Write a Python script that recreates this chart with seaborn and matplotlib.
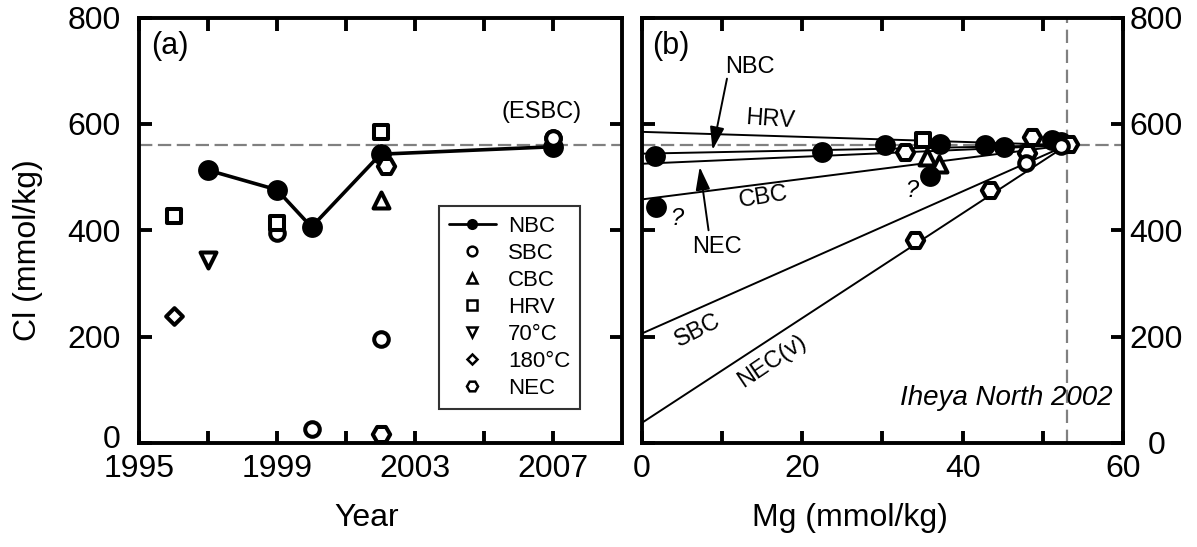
import matplotlib
matplotlib.use("Agg")
import matplotlib.pyplot as plt
import matplotlib.transforms as mtransforms
from matplotlib.lines import Line2D
from matplotlib.ticker import FixedLocator
import numpy as np
import pandas as pd
import seaborn as sns

# ---------------- data: panel (a)  Cl vs year ----------------
nbc_year = [1997, 1999, 2000, 2002, 2007]
nbc_cl = [513, 476, 406, 543, 557]
sbc_year = [1999, 2000, 2002, 2007]
sbc_cl = [394, 26, 196, 573]
cbc_year = [2002]
cbc_cl = [457]
hrv_year = [1996, 1999, 2002]
hrv_cl = [426, 414, 585]
t70_year = [1997]
t70_cl = [345]
t180_year = [1996]
t180_cl = [238]
nec_year = [2002.15, 2002]
nec_cl = [521, 16]

# ---------------- data: panel (b)  Cl vs Mg ----------------
nbc_mg = [1.6, 1.8, 22.4, 30.3, 37.2, 35.9, 42.8, 45.2, 51.2, 52.3]
nbc_cl_b = [539, 444, 547, 560, 562, 502, 561, 557, 569, 566]
sbc_mg = [47.9, 52.3]
sbc_cl_b = [527, 559]
cbc_mg = [35.6, 37.0]
cbc_cl_b = [537, 525]
hrv_mg = [35.1]
hrv_cl_b = [570]
nec_mg = [32.8, 48.6, 43.4, 34.0, 48.0, 53.3]
nec_cl_b = [548, 575, 475, 382, 545, 562]

mix_names = ["HRV", "NBC", "NEC", "CBC", "SBC", "NEC(v)"]
mix_cl0 = [585, 544, 525, 458, 206, 38]
seawater_mg = 53.0
seawater_cl = 560

legend_labels = ["NBC", "SBC", "CBC", "HRV", "70°C", "180°C", "NEC"]

# ---------------- style ----------------
sns.set_theme(style="white")
plt.rcParams["font.family"] = ["Liberation Sans", "DejaVu Sans"]
plt.rcParams["axes.edgecolor"] = "black"
plt.rcParams["axes.linewidth"] = 2.8
plt.rcParams["text.color"] = "black"
plt.rcParams["axes.labelcolor"] = "black"
plt.rcParams["xtick.color"] = "black"
plt.rcParams["ytick.color"] = "black"

TICK_FS = 23
LW_SP = 2.8
MEW = 2.9

fig = plt.figure(figsize=(11.97, 5.47), dpi=100)
ax1 = fig.add_axes([139 / 1197, 1 - 443 / 547, (622 - 139) / 1197, (443 - 17.5) / 547])
ax2 = fig.add_axes([642 / 1197, 1 - 443 / 547, (1123 - 642) / 1197, (443 - 17.5) / 547])

open_kw = dict(color="white", edgecolor="black", linewidth=MEW, legend=False)

def open_pts(ax, x, y, marker, ms, z=4):
    sns.scatterplot(x=x, y=y, marker=marker, s=ms ** 2, ax=ax, zorder=z, **open_kw)

# ---------------- panel (a) ----------------
ax1.axhline(seawater_cl, color="#808080", lw=1.6, ls=(0, (6, 2.5)), zorder=1)
open_pts(ax1, sbc_year, sbc_cl, "o", 10.5, 3)
sns.lineplot(x=nbc_year, y=nbc_cl, color="black", lw=2.6, marker="o", ms=15,
             markeredgewidth=0, estimator=None, sort=False, ax=ax1, zorder=3)
open_pts(ax1, [sbc_year[-1]], [sbc_cl[-1]], "o", 10.5, 5)
open_pts(ax1, hrv_year, hrv_cl, "s", 10.5)
open_pts(ax1, cbc_year, cbc_cl, "^", 11.5)
open_pts(ax1, t70_year, t70_cl, "v", 11.5)
open_pts(ax1, t180_year, t180_cl, "D", 8.5)
open_pts(ax1, nec_year, nec_cl, "H", 12.5)

ax1.set_xlim(1995, 2009)
ax1.set_ylim(0, 800)
ax1.xaxis.set_major_locator(FixedLocator([1995, 1999, 2003, 2007]))
ax1.xaxis.set_minor_locator(FixedLocator([1997, 2001, 2005]))
ax1.set_yticks([0, 200, 400, 600, 800])
ax1.set_xticks([1995, 1999, 2003, 2007])
ax1.set_xticklabels(["1995", "1999", "2003", "2007"])
ax1.text(0.025, 0.934, "(a)", transform=ax1.transAxes, fontsize=22, ha="left", va="center")
ax1.text(2006.68, 622, "(ESBC)", fontsize=17, ha="center", va="center")
ax1.set_xlabel("Year", fontsize=TICK_FS)
ax1.set_ylabel("Cl (mmol/kg)", fontsize=TICK_FS)
ax1.xaxis.set_label_coords(0.472, -0.14)
ax1.yaxis.set_label_coords(-0.198, 0.453)

handles = [Line2D([], [], color="black", lw=2, marker="o", ms=8, mew=0)]
for m, s in zip(["o", "^", "s", "v", "D", "H"], [7, 7.5, 7, 7.5, 5.5, 8]):
    handles.append(Line2D([], [], ls="none", marker=m, ms=s, mfc="white", mec="black", mew=1.8))
leg = ax1.legend(handles, legend_labels, loc="center", bbox_to_anchor=(0.767, 0.318),
                 fontsize=16, frameon=True, fancybox=False, edgecolor="black",
                 handlelength=2.1, labelspacing=0.27, handletextpad=0.55,
                 borderpad=0.45, borderaxespad=0)
leg.get_frame().set_linewidth(1.5)
leg.set_zorder(10)

# ---------------- panel (b) ----------------
mix_rows = []
for name, c0 in zip(mix_names, mix_cl0):
    mix_rows.append({"line": name, "mg": 0.0, "cl": c0})
    mix_rows.append({"line": name, "mg": seawater_mg, "cl": seawater_cl})
mix_df = pd.DataFrame(mix_rows)

ax2.axhline(seawater_cl, color="#808080", lw=1.6, ls=(0, (6, 2.5)), zorder=1)
ax2.axvline(seawater_mg, color="#808080", lw=1.6, ls=(0, (6, 3)), zorder=1)
sns.lineplot(data=mix_df, x="mg", y="cl", units="line", estimator=None, color="black",
             lw=1.4, ax=ax2, zorder=2, legend=False)
open_pts(ax2, hrv_mg, hrv_cl_b, "s", 10.5, 3)
sns.scatterplot(x=nbc_mg, y=nbc_cl_b, marker="o", s=15 ** 2, color="black", linewidth=0,
                ax=ax2, zorder=4, legend=False)
open_pts(ax2, cbc_mg, cbc_cl_b, "^", 11.5, 3)
open_pts(ax2, nec_mg, nec_cl_b, "H", 12.5, 5)
open_pts(ax2, sbc_mg, sbc_cl_b, "o", 10.5, 6)

ax2.set_xlim(0, 60)
ax2.set_ylim(0, 800)
ax2.xaxis.set_major_locator(FixedLocator([0, 20, 40, 60]))
ax2.xaxis.set_minor_locator(FixedLocator([10, 30, 50]))
ax2.set_yticks([0, 200, 400, 600, 800])
ax2.set_xlabel("Mg (mmol/kg)", fontsize=TICK_FS)
ax2.set_ylabel("")
ax2.xaxis.set_label_coords(0.432, -0.14)

ax2.text(0.021, 0.934, "(b)", transform=ax2.transAxes, fontsize=22, ha="left", va="center")
ax2.text(0.979, 0.106, "Iheya North 2002", transform=ax2.transAxes, fontsize=20,
         style="italic", ha="right", va="center")
ax2.text(13.5, 707, "NBC", fontsize=17, ha="center", va="center")
ax2.text(16.0, 607, "HRV", fontsize=17, ha="center", va="center", rotation=-4)
ax2.text(15.1, 463, "CBC", fontsize=17, ha="center", va="center", rotation=9)
ax2.text(9.3, 369, "NEC", fontsize=17, ha="center", va="center")
ax2.text(7.0, 212, "SBC", fontsize=17, ha="center", va="center", rotation=27)
ax2.text(16.2, 153, "NEC(v)", fontsize=17, ha="center", va="center", rotation=34)
ax2.text(4.3, 422, "?", fontsize=17, ha="center", va="center", style="italic")
ax2.text(33.6, 475, "?", fontsize=17, ha="center", va="center", style="italic")
arrow = dict(arrowstyle="-|>,head_length=0.7,head_width=0.22", color="black", lw=1.4,
             shrinkA=0, shrinkB=0, mutation_scale=20)
ax2.annotate("", xy=(8.8, 551), xytext=(10.6, 685), arrowprops=arrow)
ax2.annotate("", xy=(7.2, 519), xytext=(8.3, 400), arrowprops=arrow)

# ---------------- ticks / spines ----------------
for ax in (ax1, ax2):
    for sp in ax.spines.values():
        sp.set_linewidth(LW_SP)
        sp.set_color("black")
    ax.tick_params(which="both", direction="in", length=9, width=LW_SP, color="black",
                   top=True, bottom=True, left=True, right=True, labelsize=TICK_FS,
                   labelcolor="black")
    ax.tick_params(axis="x", which="both", pad=8)
    ax.set_facecolor("white")

ax1.tick_params(axis="y", pad=13, labelleft=True, labelright=False)
ax2.tick_params(axis="y", pad=24, labelleft=False, labelright=True)
for lab in ax2.get_yticklabels():
    lab.set_horizontalalignment("center")

# lift the left "0" label a little so it clears "1995" (as in the reference)
fig.canvas.draw()
zero_lab = ax1.get_yticklabels()[0]
zero_lab.set_transform(zero_lab.get_transform() +
                       mtransforms.ScaledTranslation(0, 6 / 100, fig.dpi_scale_trans))

fig.savefig("out.png", dpi=100, facecolor="white")
